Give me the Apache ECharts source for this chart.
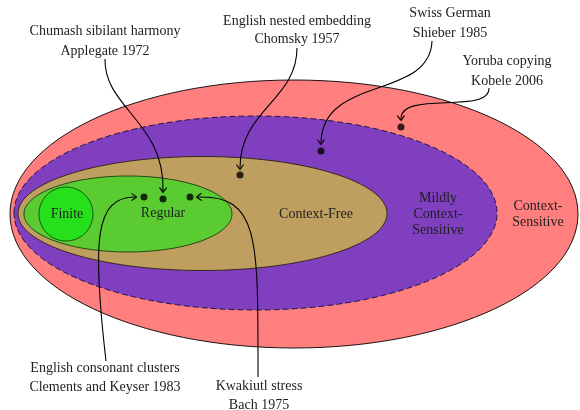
<!DOCTYPE html>
<html>
<head>
<meta charset="utf-8">
<script src="https://cdn.jsdelivr.net/npm/echarts@6/dist/echarts.min.js"></script>
<style>html,body{margin:0;padding:0;background:#fff}#c{width:580px;height:410px}</style>
</head>
<body>
<div id="c"></div>
<script>
// Language classes: name, centre x, centre y, radius x, radius y (diagram units)
const classNames = ['Context-\nSensitive', 'Mildly\nContext-\nSensitive', 'Context-Free', 'Regular', 'Finite'];
const classCx = [294, 255.5, 202.5, 128, 66];
const classCy = [214, 213, 213.5, 214, 214];
const classRx = [284, 241.5, 184.5, 104, 27];
const classRy = [134, 97, 57, 38, 27];
const classLabelX = [538, 438, 316, 163, 67];
const classLabelY = [214, 214, 214, 213, 214];

// Example languages (points)
const exampleX = [144, 163, 190, 240, 321, 401];
const exampleY = [197, 199, 197, 175, 151, 127];

// Annotation captions
const captionLine1 = ['Chumash sibilant harmony', 'English nested embedding', 'Swiss German', 'Yoruba copying', 'English consonant clusters', 'Kwakiutl stress'];
const captionLine2 = ['Applegate 1972', 'Chomsky 1957', 'Shieber 1985', 'Kobele 2006', 'Clements and Keyser 1983', 'Bach 1975'];
const captionX = [105, 297, 450, 507, 105, 259];
const captionY1 = [31, 21, 13, 61, 368, 386];
const captionY2 = [51, 39, 33, 81, 387, 405];

// Arrow curves: start, control1, control2, end
const arrowStart = [[105, 59], [297, 48], [432, 41], [489, 88], [106, 361], [258, 377]];
const arrowCtrl1 = [[104, 108], [297, 100], [430, 100], [490, 115], [92, 240], [258, 240]];
const arrowCtrl2 = [[165, 122], [240, 110], [322, 75], [400, 90], [95, 197], [260, 195]];
const arrowEnd = [[163, 191], [240, 168], [321, 143], [401, 119], [135, 197], [198, 197]];

const fills = ['#ff7f7f', '#7f3fbf', '#bf9f60', '#5acc32', '#27e01c'];
const strokes = ['#000000', '#101040', '#2a2010', '#1a3a10', '#0f4a0f'];
const FONT = '"Liberation Serif", "DejaVu Serif", serif';

const chart = echarts.init(document.getElementById('c'), null, {renderer: 'canvas'});

const ellipseData = classCx.map((x, i) => [x, classCy[i], classRx[i], classRy[i]]);
const pointData = exampleX.map((x, i) => [x, exampleY[i]]);
const arrowData = arrowStart.map((s, i) => [s[0], s[1], arrowCtrl1[i][0], arrowCtrl1[i][1], arrowCtrl2[i][0], arrowCtrl2[i][1], arrowEnd[i][0], arrowEnd[i][1]]);
const classLabelData = classNames.map((n, i) => [classLabelX[i], classLabelY[i], n]);
const captionData = [];
captionLine1.forEach((t, i) => {
  captionData.push([captionX[i], captionY1[i], t]);
  captionData.push([captionX[i], captionY2[i], captionLine2[i]]);
});

function textItem(params, api) {
  const c = api.coord([api.value(0), api.value(1)]);
  return {
    type: 'text',
    style: {
      x: c[0], y: c[1], text: api.value(2),
      fill: params.seriesName === 'classLabels' ? '#1e1e1e' : '#222',
      font: '14px ' + FONT,
      align: 'center', verticalAlign: 'middle', lineHeight: 16
    }
  };
}

chart.setOption({
  animation: false,
  grid: {left: 0, right: 0, top: 0, bottom: 0},
  xAxis: {type: 'value', min: 0, max: 580, show: false},
  yAxis: {type: 'value', min: 0, max: 410, inverse: true, show: false},
  series: [
    {
      type: 'custom', name: 'classes', clip: false, z: 1,
      data: ellipseData,
      renderItem: function (params, api) {
        const i = params.dataIndex;
        const c = api.coord([api.value(0), api.value(1)]);
        const s = api.size([api.value(2), api.value(3)]);
        return {
          type: 'ellipse',
          shape: {cx: c[0], cy: c[1], rx: Math.abs(s[0]), ry: Math.abs(s[1])},
          style: {fill: fills[i], stroke: strokes[i], lineWidth: 0.9, lineDash: i === 1 ? [6, 3] : null}
        };
      }
    },
    {
      type: 'custom', name: 'classLabels', clip: false, z: 2,
      data: classLabelData,
      dimensions: ['x', 'y', {name: 'label', type: 'ordinal'}],
      renderItem: textItem
    },
    {
      type: 'scatter', name: 'examples', z: 3,
      data: pointData, symbol: 'circle', symbolSize: 7,
      itemStyle: {color: '#000'}
    },
    {
      type: 'custom', name: 'arrows', clip: false, z: 4,
      data: arrowData,
      renderItem: function (params, api) {
        const p = [];
        for (let k = 0; k < 4; k++) p.push(api.coord([api.value(2 * k), api.value(2 * k + 1)]));
        const dx = p[3][0] - p[2][0], dy = p[3][1] - p[2][1];
        const len = Math.sqrt(dx * dx + dy * dy) || 1;
        const ux = dx / len, uy = dy / len;
        const nx = -uy, ny = ux;
        const back = 5, half = 3.6;
        const tip = [p[3][0] + ux * 1.5, p[3][1] + uy * 1.5];
        const bl = [tip[0] - ux * back + nx * half, tip[1] - uy * back + ny * half];
        const br = [tip[0] - ux * back - nx * half, tip[1] - uy * back - ny * half];
        const ml = [tip[0] - ux * 1.5 + nx * 1.2, tip[1] - uy * 1.5 + ny * 1.2];
        const mr = [tip[0] - ux * 1.5 - nx * 1.2, tip[1] - uy * 1.5 - ny * 1.2];
        return {
          type: 'group',
          children: [
            {
              type: 'bezierCurve',
              shape: {x1: p[0][0], y1: p[0][1], cpx1: p[1][0], cpy1: p[1][1], cpx2: p[2][0], cpy2: p[2][1], x2: p[3][0], y2: p[3][1]},
              style: {stroke: '#000', lineWidth: 1.1, fill: null}
            },
            {
              type: 'path',
              shape: {pathData: 'M' + bl[0] + ' ' + bl[1] + ' Q' + ml[0] + ' ' + ml[1] + ' ' + tip[0] + ' ' + tip[1] + ' Q' + mr[0] + ' ' + mr[1] + ' ' + br[0] + ' ' + br[1]},
              style: {stroke: '#000', lineWidth: 1.1, fill: null}
            }
          ]
        };
      }
    },
    {
      type: 'custom', name: 'captions', clip: false, z: 5,
      data: captionData,
      dimensions: ['x', 'y', {name: 'label', type: 'ordinal'}],
      renderItem: textItem
    }
  ]
});
</script>
</body>
</html>
